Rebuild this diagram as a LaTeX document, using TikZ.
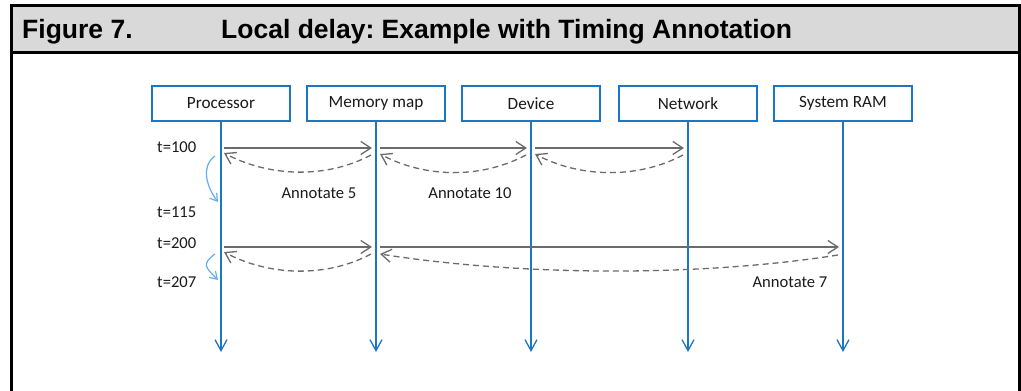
\documentclass[tikz,border=0pt]{standalone}
\usepackage{fontspec}
\setmainfont{Carlito}
\newfontfamily\hdfont{Liberation Sans}
\usetikzlibrary{arrows.meta}
\definecolor{boxblue}{HTML}{1B76C4}
\definecolor{lightblue}{HTML}{62AEF5}
\definecolor{msggray}{HTML}{6B6B6B}
\definecolor{hdgray}{HTML}{D9D9D9}
\definecolor{txt}{HTML}{1A1A1A}
\frenchspacing
\begin{document}
\begin{tikzpicture}[x=1pt,y=-1pt,
  actor/.style={draw=boxblue,line width=1.3pt,fill=white,minimum width=138pt,minimum height=35pt,inner sep=0pt,font=\fontsize{17.2}{19}\selectfont,text=txt},
  life/.style={draw=boxblue,line width=1.3pt,-{Straight Barb[length=11pt,width=12pt,line width=1.3pt]}},
  msg/.style={draw=msggray,line width=1.3pt,-{Straight Barb[length=10pt,width=13pt,line width=1.3pt]}},
  ret/.style={msg,dash pattern=on 6pt off 4pt},
  tick/.style={draw=lightblue,line width=1.2pt,-{Straight Barb[length=7pt,width=9pt,line width=1.2pt]}},
  lbl/.style={font=\fontsize{16.6}{18}\selectfont,inner sep=0pt,text=txt},
  hd/.style={font=\hdfont\bfseries\fontsize{26.5}{28}\selectfont,inner sep=0pt,anchor=base west}
]
\useasboundingbox (0,0) rectangle (1021,391);
% frame and header
\fill[hdgray] (11,5) rectangle (1019,52);
\draw[line width=3pt] (11,395) -- (11,5) -- (1019,5) -- (1019,395);
\draw[line width=3pt] (11,52) -- (1019,52);
\node[hd] (fig) at (22,38) {Figure 7.};
\node[hd] (title) at (221,38) {Local delay: Example with Timing Annotation};
% actors
\node[actor] (proc) at (221,103.5) {Processor};
\node[actor] (mem)  at (376,103.5) {Memory map};
\node[actor] (dev)  at (531,103.5) {Device};
\node[actor] (net)  at (688,103.5) {Network};
\node[actor] (ram)  at (843,103.5) {System RAM};
% lifelines
\foreach \n/\x in {proc/221,mem/376,dev/531,net/688,ram/843}{
  \coordinate (\n E) at (\x,352);
  \coordinate (\n A) at (\x,148);
  \coordinate (\n B) at (\x,247);
  \draw[life] (\n) -- (\n E);
}
% time labels
\node[lbl,anchor=west] (t100) at (157,147) {t=100};
\node[lbl,anchor=west] (t115) at (157,212) {t=115};
\node[lbl,anchor=west] (t200) at (157,243) {t=200};
\node[lbl,anchor=west] (t207) at (157,282) {t=207};
% row 1 requests
\draw[msg] ([xshift=3pt]procA) -- ([xshift=-4pt]memA);
\draw[msg] ([xshift=4pt]memA) -- ([xshift=-4pt]devA);
\draw[msg] ([xshift=4pt]devA) -- ([xshift=-4pt]netA);
% row 1 returns
\draw[ret] ([shift={(-5,7)}]memA) .. controls +(-45,24) and +(45,24) .. ([shift={(3,5)}]procA);
\draw[ret] ([shift={(-5,7)}]devA) .. controls +(-45,24) and +(45,24) .. ([shift={(4,6)}]memA);
\draw[ret] ([shift={(-5,7)}]netA) .. controls +(-45,24) and +(45,24) .. ([shift={(4,6)}]devA);
% row 2 requests
\draw[msg] ([xshift=3pt]procB) -- ([xshift=-4pt]memB);
\draw[msg] ([xshift=4pt]memB) -- ([xshift=-4pt]ramB);
% row 2 returns
\draw[ret] ([shift={(-5,7)}]memB) .. controls +(-45,24) and +(45,24) .. ([shift={(3,5)}]procB);
\draw[ret] ([shift={(-5,8)}]ramB) .. controls +(-140,22) and +(140,22) .. ([shift={(4,7)}]memB);
% local time advance
\draw[tick] ([shift={(-6,8)}]procA) .. controls +(-14,10) and +(-12,-16) .. ([shift={(-3,54)}]procA);
\draw[tick] ([shift={(-6,7)}]procB) .. controls +(-14,10) and +(-12,-12) .. ([shift={(-3,33)}]procB);
% annotations
\node[lbl] (a5) at (319,193) {Annotate 5};
\node[lbl] (a10) at (470,193) {Annotate 10};
\node[lbl] (a7) at (790,282) {Annotate 7};
\end{tikzpicture}
\end{document}
